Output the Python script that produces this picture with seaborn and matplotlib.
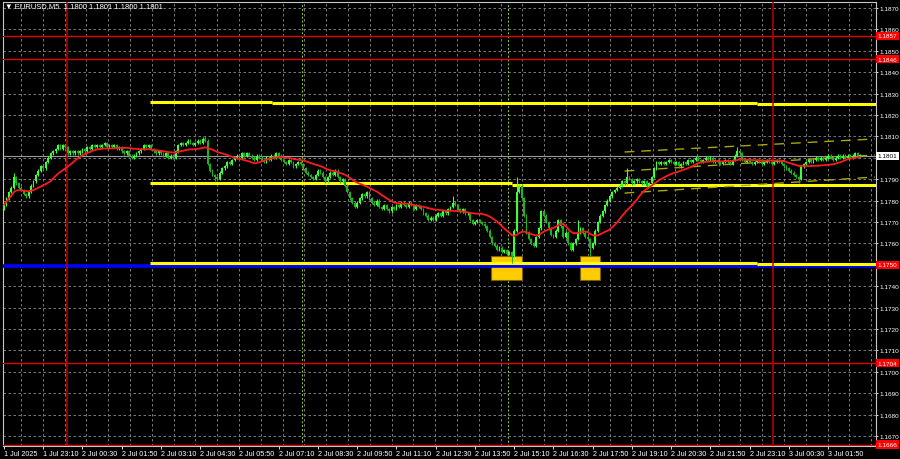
import numpy as np
import pandas as pd
import matplotlib
matplotlib.use("Agg")
import matplotlib.pyplot as plt
import matplotlib.transforms as mtransforms
from matplotlib.patches import Rectangle
import seaborn as sns

# EURUSD M5 closes, bar 0 = 1 Jul 21:50
closes = [
    1.1778, 1.1781, 1.1784, 1.1786, 1.1791, 1.1788, 1.1786, 1.1785, 1.1783, 1.1782,
    1.1784, 1.1787, 1.1789, 1.1792, 1.1794, 1.1796, 1.1795, 1.1798, 1.1800, 1.1802,
    1.1803, 1.1804, 1.1806, 1.1804, 1.1806, 1.1805, 1.1802, 1.1803, 1.1802, 1.1803,
    1.1802, 1.1803, 1.1804, 1.1803, 1.1805, 1.1804, 1.1806, 1.1805, 1.1806, 1.1805,
    1.1806, 1.1807, 1.1805, 1.1806, 1.1805, 1.1806, 1.1804, 1.1805, 1.1803, 1.1802,
    1.1803, 1.1801, 1.1800, 1.1801, 1.1802, 1.1803, 1.1804, 1.1806, 1.1805, 1.1806,
    1.1804, 1.1803, 1.1802, 1.1803, 1.1802, 1.1801, 1.1802, 1.1800, 1.1801, 1.1800,
    1.1803, 1.1806, 1.1807, 1.1806, 1.1807, 1.1808, 1.1807, 1.1806, 1.1807, 1.1808,
    1.1807, 1.1809, 1.1808, 1.1797, 1.1794, 1.1792, 1.1791, 1.1790, 1.1793, 1.1795,
    1.1796, 1.1798, 1.1797, 1.1799, 1.1800, 1.1801, 1.1800, 1.1802, 1.1801, 1.1802,
    1.1801, 1.1800, 1.1799, 1.1801, 1.1800, 1.1799, 1.1798, 1.1800, 1.1799, 1.1801,
    1.1800, 1.1802, 1.1801, 1.1799, 1.1798, 1.1797, 1.1799, 1.1798, 1.1796, 1.1797,
    1.1798, 1.1797, 1.1795, 1.1793, 1.1792, 1.1791, 1.1790, 1.1792, 1.1794, 1.1793,
    1.1791, 1.1789, 1.1791, 1.1793, 1.1792, 1.1794, 1.1791, 1.1789, 1.1790, 1.1787,
    1.1784, 1.1781, 1.1779, 1.1777, 1.1779, 1.1781, 1.1783, 1.1782, 1.1784, 1.1781,
    1.1779, 1.1778, 1.1780, 1.1777, 1.1776, 1.1778, 1.1776, 1.1775, 1.1777, 1.1776,
    1.1778, 1.1777, 1.1779, 1.1778, 1.1777, 1.1779, 1.1778, 1.1776, 1.1778, 1.1777,
    1.1776, 1.1774, 1.1773, 1.1771, 1.1772, 1.1771, 1.1773, 1.1774, 1.1773, 1.1775,
    1.1774, 1.1776, 1.1777, 1.1779, 1.1778, 1.1776, 1.1775, 1.1776, 1.1774, 1.1774,
    1.1771, 1.1769, 1.1770, 1.1771, 1.1770, 1.1769, 1.1768, 1.1766, 1.1763, 1.1760,
    1.1759, 1.1757, 1.1758, 1.1756, 1.1757, 1.1755, 1.1756, 1.1754, 1.1766, 1.1784,
    1.1787, 1.1781, 1.1773, 1.1765, 1.1762, 1.1760, 1.1759, 1.1763, 1.1767, 1.1775,
    1.1773, 1.1770, 1.1767, 1.1764, 1.1763, 1.1766, 1.1771, 1.1768, 1.1763, 1.1765,
    1.1760, 1.1757, 1.1760, 1.1762, 1.1765, 1.1767, 1.1765, 1.1763, 1.1762, 1.1758,
    1.1760, 1.1766, 1.1770, 1.1773, 1.1775, 1.1778, 1.1780, 1.1782, 1.1784, 1.1785,
    1.1786, 1.1787, 1.1789, 1.1788, 1.1791, 1.1790, 1.1788, 1.1789, 1.1790, 1.1789,
    1.1788, 1.1789, 1.1787, 1.1788, 1.1791, 1.1795, 1.1798, 1.1797, 1.1798, 1.1797,
    1.1798, 1.1799, 1.1798, 1.1797, 1.1798, 1.1796, 1.1797, 1.1798, 1.1797, 1.1799,
    1.1798, 1.1799, 1.1800, 1.1799, 1.1798, 1.1799, 1.1800, 1.1799, 1.1800, 1.1798,
    1.1799, 1.1798, 1.1797, 1.1798, 1.1799, 1.1798, 1.1797, 1.1799, 1.1801, 1.1803,
    1.1802, 1.1799, 1.1798, 1.1799, 1.1798, 1.1797, 1.1798, 1.1799, 1.1798, 1.1797,
    1.1798, 1.1799, 1.1798, 1.1797, 1.1798, 1.1799, 1.1798, 1.1797, 1.1796, 1.1795,
    1.1794, 1.1793, 1.1792, 1.1791, 1.1790, 1.1796, 1.1797, 1.1798, 1.1799, 1.1798,
    1.1799, 1.1800, 1.1799, 1.1800, 1.1799, 1.1800, 1.1801, 1.1800, 1.1799, 1.1800,
    1.1801, 1.1800, 1.1801, 1.1800, 1.1801, 1.1800, 1.1801, 1.1802, 1.1801, 1.1801,
]
first_open = 1.1776
spike_highs = {4: 1.1793, 82: 1.1810, 183: 1.1782, 209: 1.1791, 234: 1.1771,
               254: 1.1795, 299: 1.1805}
spike_lows = {86: 1.1789, 207: 1.1751, 239: 1.1754, 324: 1.1788}

time_labels = ["1 Jul 2025", "1 Jul 23:10", "2 Jul 00:30", "2 Jul 01:50", "2 Jul 03:10",
               "2 Jul 04:30", "2 Jul 05:50", "2 Jul 07:10", "2 Jul 08:30", "2 Jul 09:50",
               "2 Jul 11:10", "2 Jul 12:30", "2 Jul 13:50", "2 Jul 15:10", "2 Jul 16:30",
               "2 Jul 17:50", "2 Jul 19:10", "2 Jul 20:30", "2 Jul 21:50", "2 Jul 23:10",
               "3 Jul 00:30", "3 Jul 01:50"]
bars_per_label = 16

red_levels = [1.1857, 1.1846, 1.1704, 1.1666]
blue_level = 1.17493
yellow_upper = [(59.4, 109.2, 1.18260), (109.2, 306.9, 1.18255), (306.9, 355.5, 1.18250)]
yellow_mid = [(59.4, 207.0, 1.17882), (207.0, 355.5, 1.17875)]
yellow_low = [(59.4, 306.9, 1.17510), (306.9, 355.5, 1.17505)]
day_bars = [26, 314]
session_bars = [122, 206]
channel_bars = [253, 355]
channel_upper = [1.18027, 1.18088]
channel_mid = [1.17938, 1.18013]
channel_lower = [1.17835, 1.17910]
signal_boxes = [(198.5, 211.0), (235.0, 243.0)]
box_prices = (1.17429, 1.17541)
current_price = 1.1801
covered_ticks = ["1.1800", "1.1750"]
title = "EURUSD,M5  1.1800 1.1801 1.1800 1.1801"

sns.set_theme(style="dark", rc={"axes.facecolor": "black", "figure.facecolor": "black"})
plt.rcParams["font.family"] = ["Liberation Sans", "DejaVu Sans"]

df = pd.DataFrame({"bar": np.arange(len(closes)), "close": closes})
df["open"] = df["close"].shift(1).fillna(first_open)
df["high"] = df[["open", "close"]].max(axis=1) + 0.00006
df["low"] = df[["open", "close"]].min(axis=1) - 0.00006
for b, v in spike_highs.items():
    df.loc[b, "high"] = v
for b, v in spike_lows.items():
    df.loc[b, "low"] = v
df["ma"] = df["close"].rolling(20, min_periods=1).mean()

fig = plt.figure(figsize=(9, 4.6), dpi=100)
ax = fig.add_axes([3 / 900, 13 / 460, 873 / 900, 444 / 460])
ax.set_facecolor("black")
ax.set_xlim(-0.41, 355.5)
ax.set_ylim(1.16653, 1.18728)

# grid
price_grid = np.arange(1.1670, 1.18705, 0.001)
for gy in price_grid:
    ax.axhline(gy, color="#8c8c8c", lw=0.6, ls=(0, (3, 3)), zorder=0)
for px in np.arange(21, 876, 21.8):
    ax.axvline((px - 4) / 2.453, color="#8c8c8c", lw=0.6, ls=(0, (3, 3)), zorder=0)

for b in session_bars:
    ax.axvline(b - 0.5, color="#9acd32", lw=0.7, ls=(0, (2, 2)), zorder=1)

# signal boxes
for x0, x1 in signal_boxes:
    ax.add_patch(Rectangle((x0, box_prices[0]), x1 - x0, box_prices[1] - box_prices[0],
                           facecolor="#ffcc00", edgecolor="#7a6000", lw=0.8, zorder=2))

ax.axhline(current_price, color="#9a9a9a", lw=0.8, zorder=1)
ax.axhline(blue_level, color="#0000ff", lw=2.6, zorder=3)
for seg in (yellow_upper, yellow_mid, yellow_low):
    for x0, x1, p in seg:
        ax.hlines(p, x0, x1, color="#ffff00", lw=2.2, zorder=3)
for lvl in red_levels:
    ax.axhline(lvl, color="#e00000", lw=1.0, zorder=3)
for b in day_bars:
    ax.axvline(b - 0.5, color="#c00000", lw=1.1, zorder=3)

for vals in (channel_upper, channel_mid, channel_lower):
    ax.plot(channel_bars, vals, color="#a8a800", lw=1.0, ls=(0, (7, 5)), zorder=3)

# candles
up = df["close"] >= df["open"]
colors = np.where(up, "#3cff3c", "#1cb41c")
ax.vlines(df["bar"], df["low"], df["high"], colors=colors, lw=0.8, zorder=4)
body = (df["close"] - df["open"]).abs().clip(lower=0.00003)
ax.bar(df["bar"], body, bottom=df[["open", "close"]].min(axis=1), width=0.75,
       color=colors, lw=0, zorder=4)

sns.lineplot(data=df, x="bar", y="ma", color="#ff1a1a", lw=1.3, ax=ax, zorder=5)

# axes styling
for s in ax.spines.values():
    s.set_color("#c8c8c8")
    s.set_linewidth(0.8)
ax.yaxis.tick_right()
ax.set_yticks(price_grid)
ax.set_yticklabels(["" if f"{v:.4f}" in covered_ticks else f"{v:.4f}" for v in price_grid])
ax.tick_params(axis="y", labelsize=4.6, colors="white", length=1.5, width=0.6, pad=1,
               right=True, left=False)
ax.set_xticks(np.arange(len(time_labels)) * bars_per_label)
ax.set_xticklabels(time_labels)
for lbl in ax.get_xticklabels():
    lbl.set_ha("left")
ax.tick_params(axis="x", labelsize=5.2, colors="white", length=2, width=0.6, pad=1,
               bottom=True)
ax.set_xlabel("")
ax.set_ylabel("")
ax.grid(False)

trans = mtransforms.blended_transform_factory(ax.transAxes, ax.transData)
for lvl in red_levels + [1.1750]:
    ax.text(1.002, lvl, f"{lvl:.4f}", transform=trans, fontsize=4.6, color="white",
            va="center", ha="left", zorder=10,
            bbox=dict(boxstyle="square,pad=0.25", fc="#ff0000", ec="none"))
ax.text(1.002, current_price, f"{current_price:.4f}", transform=trans, fontsize=4.6,
        color="black", va="center", ha="left", zorder=10,
        bbox=dict(boxstyle="square,pad=0.25", fc="white", ec="none"))

fig.text(5 / 900, 1 - 7 / 460, "\u25bc " + title, color="white", fontsize=5.5, va="center")

fig.savefig("out.png", dpi=100, facecolor="black")
